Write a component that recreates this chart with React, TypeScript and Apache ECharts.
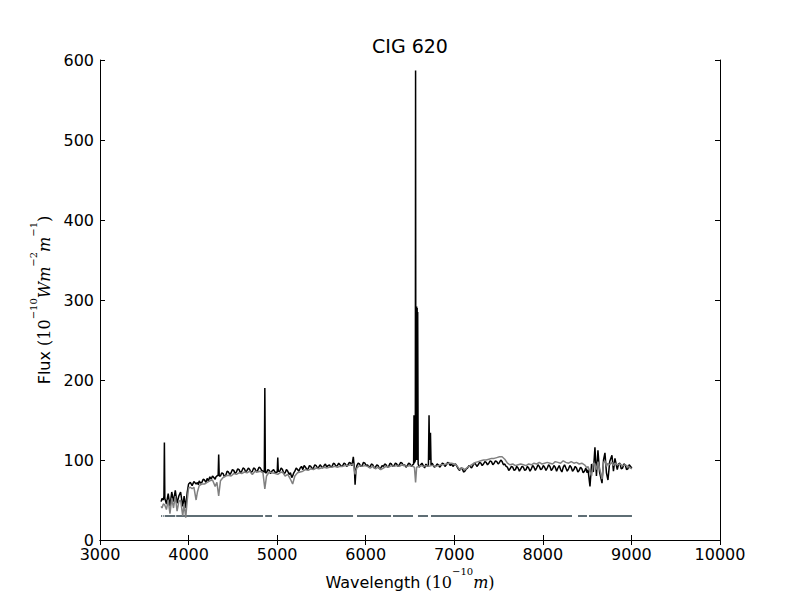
import React, { useEffect, useRef } from "react";
import * as echarts from "echarts";

const TITLE = "CIG 620";
const X_TICKS = [3000, 4000, 5000, 6000, 7000, 8000, 9000, 10000];
const Y_TICKS = [0, 100, 200, 300, 400, 500, 600];

// Observed spectrum (black): [wavelength Å, flux]
const observed: [number, number][] = [
  [3690, 48], [3700, 52], [3715, 50], [3722, 55], [3727, 122], [3732, 52], [3750, 45],
  [3770, 58], [3790, 42], [3810, 60], [3830, 48], [3850, 62], [3870, 46], [3890, 55],
  [3910, 60], [3934, 42], [3950, 55], [3968, 40], [3985, 60], [4000, 70], [4020, 72],
  [4040, 68], [4060, 73], [4085, 70], [4100, 72], [4110, 69], [4120, 74], [4135, 71],
  [4150, 72], [4165, 76], [4180, 75], [4195, 72], [4210, 77], [4225, 74], [4240, 79],
  [4255, 76], [4270, 80], [4285, 78], [4300, 76], [4310, 79], [4320, 80], [4334, 81],
  [4340, 107], [4346, 80], [4360, 80], [4375, 84], [4390, 83], [4405, 79], [4420, 81],
  [4435, 86], [4450, 85], [4465, 82], [4480, 84], [4495, 88], [4510, 87], [4525, 83],
  [4540, 85], [4555, 89], [4570, 88], [4585, 84], [4600, 86], [4615, 90], [4630, 89],
  [4645, 85], [4660, 87], [4675, 90], [4690, 88], [4705, 84], [4720, 86], [4735, 90],
  [4750, 89], [4765, 85], [4780, 87], [4795, 91], [4810, 90], [4825, 87], [4840, 86],
  [4855, 85], [4861, 190], [4867, 84], [4880, 84], [4895, 88], [4910, 87], [4925, 83],
  [4940, 86], [4960, 88], [4980, 84], [5001, 85], [5007, 103], [5013, 86], [5030, 86],
  [5045, 90], [5060, 88], [5075, 83], [5090, 84], [5105, 88], [5120, 86], [5135, 82],
  [5150, 84], [5165, 78], [5175, 80], [5188, 84], [5200, 86], [5215, 90], [5230, 88],
  [5245, 86], [5260, 90], [5275, 92], [5290, 88], [5305, 93], [5320, 91], [5335, 88],
  [5350, 89], [5365, 93], [5380, 92], [5395, 89], [5410, 90], [5425, 94], [5440, 93],
  [5455, 90], [5470, 91], [5485, 94], [5500, 92], [5515, 90], [5530, 93], [5545, 95],
  [5560, 91], [5575, 93], [5590, 94], [5605, 91], [5620, 92], [5635, 96], [5650, 95],
  [5665, 92], [5680, 93], [5695, 96], [5710, 94], [5725, 92], [5740, 93], [5755, 96],
  [5770, 95], [5785, 92], [5800, 94], [5815, 97], [5830, 96], [5845, 93], [5860, 104],
  [5872, 90], [5880, 69], [5890, 88], [5900, 93], [5915, 96], [5930, 95], [5945, 92],
  [5960, 93], [5975, 97], [5990, 96], [6005, 93], [6020, 94], [6035, 91], [6050, 92],
  [6065, 95], [6080, 94], [6095, 90], [6110, 91], [6125, 94], [6140, 93], [6155, 89],
  [6170, 90], [6185, 93], [6200, 92], [6215, 95], [6230, 94], [6245, 91], [6260, 92],
  [6275, 96], [6290, 95], [6305, 92], [6320, 93], [6335, 96], [6350, 95], [6365, 92],
  [6380, 94], [6395, 97], [6410, 96], [6425, 93], [6440, 94], [6455, 91], [6470, 93],
  [6485, 96], [6500, 95], [6515, 92], [6530, 94], [6541, 95], [6545, 156], [6548, 96],
  [6551, 155], [6554, 97], [6557, 152], [6560, 98], [6563, 587], [6566, 100], [6569, 150],
  [6572, 100], [6575, 292], [6578, 102], [6581, 290], [6584, 100], [6587, 285], [6592, 95],
  [6605, 91], [6620, 94], [6635, 96], [6650, 93], [6665, 90], [6680, 95], [6695, 92],
  [6708, 94], [6715, 156], [6722, 100], [6731, 134], [6738, 93], [6750, 96], [6760, 94],
  [6775, 91], [6790, 92], [6805, 95], [6820, 94], [6835, 91], [6850, 93], [6865, 96],
  [6880, 95], [6895, 92], [6910, 94], [6925, 97], [6940, 96], [6955, 93], [6970, 95],
  [6985, 92], [7000, 94], [7015, 95], [7030, 92], [7045, 89], [7060, 87], [7075, 90],
  [7090, 89], [7105, 85], [7120, 86], [7135, 89], [7150, 90], [7165, 93], [7180, 92],
  [7195, 90], [7210, 93], [7225, 96], [7240, 95], [7255, 92], [7270, 94], [7285, 97],
  [7300, 96], [7315, 93], [7330, 95], [7345, 98], [7360, 97], [7375, 94], [7390, 96],
  [7405, 99], [7420, 98], [7435, 94], [7450, 96], [7465, 99], [7480, 98], [7495, 95],
  [7510, 97], [7525, 100], [7540, 98], [7555, 94], [7570, 95], [7585, 92], [7600, 91],
  [7615, 87], [7630, 89], [7645, 92], [7660, 91], [7675, 87], [7690, 88], [7705, 92],
  [7720, 90], [7735, 86], [7750, 89], [7765, 92], [7780, 91], [7795, 87], [7810, 88],
  [7825, 92], [7840, 90], [7855, 86], [7870, 89], [7885, 93], [7900, 91], [7915, 87],
  [7930, 90], [7945, 94], [7960, 92], [7975, 88], [7990, 89], [8005, 93], [8020, 91],
  [8035, 87], [8050, 90], [8065, 94], [8080, 92], [8095, 87], [8110, 89], [8125, 93],
  [8140, 91], [8155, 86], [8170, 90], [8185, 93], [8200, 88], [8215, 85], [8230, 91],
  [8245, 94], [8260, 90], [8275, 86], [8290, 89], [8305, 93], [8320, 91], [8335, 86],
  [8350, 88], [8365, 92], [8380, 90], [8395, 85], [8410, 87], [8425, 91], [8440, 89],
  [8455, 84], [8470, 86], [8485, 90], [8500, 84], [8510, 88], [8532, 67], [8550, 95],
  [8570, 85], [8588, 116], [8605, 80], [8622, 112], [8640, 85], [8668, 71], [8685, 100],
  [8701, 109], [8718, 84], [8735, 75], [8755, 98], [8780, 106], [8797, 86], [8814, 102],
  [8840, 88], [8855, 95], [8870, 96], [8885, 89], [8900, 90], [8915, 95], [8930, 94],
  [8945, 88], [8960, 89], [8975, 94], [8990, 92], [9005, 90],
];

// Model / fitted spectrum (grey)
const model: [number, number][] = [
  [3690, 42], [3700, 40], [3715, 45], [3730, 44], [3750, 38], [3770, 50], [3790, 33],
  [3810, 52], [3830, 40], [3850, 55], [3870, 36], [3890, 48], [3910, 50], [3934, 30],
  [3950, 45], [3968, 28], [3985, 50], [4000, 65], [4020, 66], [4040, 64], [4060, 66],
  [4085, 50], [4100, 60], [4120, 68], [4150, 70], [4180, 70], [4210, 72], [4240, 74],
  [4270, 75], [4300, 67], [4320, 72], [4340, 55], [4360, 74], [4390, 78], [4420, 80],
  [4450, 81], [4480, 80], [4510, 83], [4540, 82], [4570, 84], [4600, 83], [4630, 85],
  [4660, 84], [4690, 86], [4720, 82], [4750, 86], [4780, 85], [4810, 86], [4840, 84],
  [4861, 64], [4880, 80], [4910, 85], [4940, 84], [4980, 83], [5007, 82], [5030, 84],
  [5060, 85], [5090, 80], [5120, 82], [5150, 76], [5175, 70], [5200, 80], [5230, 84],
  [5260, 85], [5290, 86], [5320, 88], [5350, 87], [5380, 89], [5410, 88], [5440, 90],
  [5470, 89], [5500, 90], [5530, 91], [5560, 90], [5590, 91], [5620, 91], [5650, 92],
  [5680, 91], [5710, 92], [5740, 92], [5770, 93], [5800, 93], [5830, 94], [5860, 95],
  [5880, 82], [5900, 90], [5930, 93], [5960, 92], [5990, 93], [6020, 92], [6050, 90],
  [6080, 92], [6110, 89], [6140, 91], [6170, 88], [6200, 90], [6230, 92], [6260, 91],
  [6290, 93], [6320, 92], [6350, 93], [6380, 92], [6410, 94], [6440, 93], [6470, 92],
  [6500, 93], [6530, 92], [6550, 91], [6563, 72], [6575, 91], [6600, 92], [6620, 93],
  [6650, 92], [6680, 93], [6710, 92], [6740, 93], [6760, 93], [6790, 92], [6820, 93],
  [6850, 94], [6880, 94], [6910, 95], [6940, 96], [6970, 96], [7000, 95], [7030, 93],
  [7060, 88], [7090, 90], [7120, 88], [7150, 91], [7180, 93], [7210, 95], [7240, 97],
  [7270, 98], [7300, 99], [7330, 100], [7360, 100], [7390, 101], [7420, 102], [7450, 102],
  [7480, 103], [7510, 104], [7540, 104], [7570, 101], [7600, 96], [7630, 94], [7660, 95],
  [7690, 93], [7720, 94], [7750, 95], [7780, 94], [7810, 93], [7840, 95], [7870, 94],
  [7900, 96], [7930, 95], [7960, 97], [7990, 95], [8020, 96], [8050, 97], [8080, 96],
  [8110, 95], [8140, 98], [8170, 97], [8200, 96], [8230, 99], [8260, 97], [8290, 96],
  [8320, 98], [8350, 96], [8380, 97], [8410, 95], [8440, 96], [8470, 94], [8500, 90],
  [8510, 92], [8532, 85], [8550, 80], [8570, 96], [8588, 95], [8605, 88], [8622, 98],
  [8640, 90], [8668, 76], [8685, 97], [8701, 99], [8718, 92], [8735, 96], [8755, 94],
  [8780, 97], [8797, 93], [8814, 96], [8840, 94], [8870, 95], [8900, 93], [8930, 94],
  [8960, 92], [8990, 90], [9005, 89],
];

// Masked wavelength ranges (drawn at a fixed flux level)
const MASK_LEVEL = 30;
const maskSegments: [number, number][] = [
  [3690, 3702], [3712, 3720], [3730, 3850], [3860, 4840], [4865, 4942], [5010, 5857],
  [5902, 6286], [6308, 6534], [6590, 6703], [6737, 8329], [8397, 8498], [8521, 9006],
];

const maskData: any[] = [];
maskSegments.forEach(([a, b]) => {
  maskData.push([a, MASK_LEVEL], [b, MASK_LEVEL], [b, "-"]);
});

const SANS = "DejaVu Sans";
const SERIF = "DejaVu Serif";

const rich = {
  n: { fontFamily: SANS, fontSize: 16, color: "#000", lineHeight: 24, verticalAlign: "bottom" as const },
  m: { fontFamily: SERIF, fontSize: 16, color: "#000", lineHeight: 24, verticalAlign: "bottom" as const },
  i: { fontFamily: SERIF, fontStyle: "italic" as const, fontSize: 16, color: "#000", lineHeight: 24, verticalAlign: "bottom" as const },
  s: { fontFamily: SERIF, fontSize: 10, color: "#000", lineHeight: 14, verticalAlign: "top" as const },
};

export default function App() {
  const ref = useRef<HTMLDivElement>(null);
  useEffect(() => {
    if (!ref.current) return;
    const chart = echarts.init(ref.current, undefined, { renderer: "svg" });
    const tickCommon = {
      axisLine: { show: true, lineStyle: { color: "#000", width: 1 } },
      axisTick: { show: true, inside: true, length: 5, lineStyle: { color: "#000", width: 1 } },
      splitLine: { show: false },
    };
    const plain = (v: number) => String(v);
    chart.setOption({
      animation: false,
      backgroundColor: "#fff",
      grid: { left: 100, right: 80, top: 60, bottom: 60, containLabel: false },
      graphic: [
        {
          type: "text",
          x: 410,
          y: 36,
          style: {
            text: TITLE,
            font: `19px "${SANS}"`,
            fill: "#000",
            textAlign: "center",
            textVerticalAlign: "top",
          },
        },
      ],
      xAxis: [
        {
          type: "value",
          position: "bottom",
          min: X_TICKS[0],
          max: X_TICKS[X_TICKS.length - 1],
          interval: 1000,
          ...tickCommon,
          axisLabel: { color: "#000", fontFamily: SANS, fontSize: 16, lineHeight: 12, margin: 8, formatter: plain },
          name: "{n|Wavelength }{m|(10}{s|−10}{i|m}{m|)}",
          nameLocation: "middle",
          nameGap: 22,
          nameTextStyle: { rich, verticalAlign: "top" },
        },
        {
          type: "value",
          position: "top",
          min: X_TICKS[0],
          max: X_TICKS[X_TICKS.length - 1],
          interval: 1000,
          ...tickCommon,
          axisLabel: { show: false },
        },
      ],
      yAxis: [
        {
          type: "value",
          position: "left",
          min: Y_TICKS[0],
          max: Y_TICKS[Y_TICKS.length - 1],
          interval: 100,
          ...tickCommon,
          axisLabel: { color: "#000", fontFamily: SANS, fontSize: 16, lineHeight: 12, margin: 6, formatter: plain },
          name: "{n|Flux }{m|(10}{s|−10}{i|Wm}{s|−2}{i|m}{s|−1}{m|)}",
          nameLocation: "middle",
          nameRotate: 90,
          nameGap: 46,
          nameTextStyle: { rich },
        },
        {
          type: "value",
          position: "right",
          min: Y_TICKS[0],
          max: Y_TICKS[Y_TICKS.length - 1],
          interval: 100,
          ...tickCommon,
          axisLabel: { show: false },
        },
      ],
      series: [
        {
          name: "mask",
          type: "line",
          data: maskData,
          showSymbol: false,
          connectNulls: false,
          lineStyle: { color: "#5e6d74", width: 2 },
          z: 1,
        },
        {
          name: "observed",
          type: "line",
          data: observed,
          showSymbol: false,
          lineStyle: { color: "#000", width: 1.5 },
          z: 2,
        },
        {
          name: "model",
          type: "line",
          data: model,
          showSymbol: false,
          lineStyle: { color: "#808080", width: 1.5 },
          z: 3,
        },
      ],
    });
    return () => chart.dispose();
  }, []);
  return (
    <div
      ref={ref}
      style={{ position: "fixed", left: 0, top: 0, width: 800, height: 600, background: "#fff" }}
    />
  );
}
